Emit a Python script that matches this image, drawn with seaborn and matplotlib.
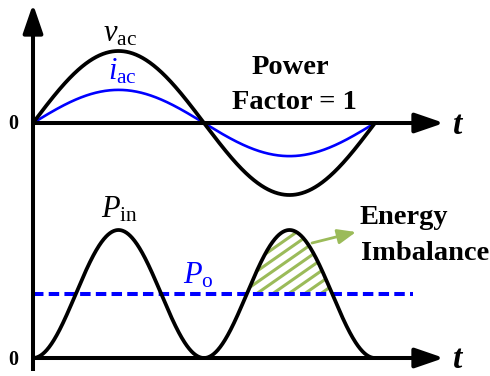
import numpy as np
import pandas as pd
import matplotlib
matplotlib.use("Agg")
import matplotlib.pyplot as plt
import seaborn as sns

# ---- waveform values (normalised units) ----
ac_names = ["v_ac", "i_ac"]
ac_amplitudes = [1.0, 0.46]          # grid voltage, in-phase current (PF = 1)
ac_colors = ["black", "blue"]
power_peak = [1.0]                   # peak of instantaneous input power
power_out = [0.5]                    # constant output power (average of P_in)
cycles = [1.0]                       # one line cycle shown

W, H, DPI = 490, 376, 100
sns.set_theme(style="white")
plt.rcParams["font.family"] = ["Liberation Serif", "DejaVu Serif"]
plt.rcParams["text.color"] = "black"
plt.rcParams["mathtext.fontset"] = "custom"
plt.rcParams["mathtext.rm"] = "Liberation Serif"
plt.rcParams["mathtext.it"] = "Liberation Serif:italic"
plt.rcParams["mathtext.bf"] = "Liberation Serif:bold"

fig = plt.figure(figsize=(W / DPI, H / DPI), dpi=DPI)
fig.patch.set_facecolor("white")

# both panels share the full canvas; they differ only in vertical scaling
ax_ac = fig.add_axes([0, 0, 1, 1])
ax_p = fig.add_axes([0, 0, 1, 1])
for ax in (ax_ac, ax_p):
    ax.set_axis_off()
    ax.patch.set_alpha(0)

# horizontal: one period spans 33 px .. 375 px
x_per_rad = 342 / (2 * np.pi)
xlim = (-33 / x_per_rad, (W - 33) / x_per_rad)
ax_ac.set_xlim(*xlim)
ax_p.set_xlim(*xlim)
# vertical scaling of each panel (zero line / unit size in pixels)
ac_zero, ac_unit = 123, 72
p_zero, p_unit = 358, 128
ax_ac.set_ylim(-(H - ac_zero) / ac_unit, ac_zero / ac_unit)
ax_p.set_ylim(-(H - p_zero) / p_unit, p_zero / p_unit)

theta = np.linspace(0, 2 * np.pi * cycles[0], 721)

# ---- AC waveforms ----
ac_df = pd.concat(
    [pd.DataFrame({"theta": theta, "value": a * np.sin(theta), "signal": n})
     for n, a in zip(ac_names, ac_amplitudes)]
)
sns.lineplot(data=ac_df[ac_df.signal == "i_ac"], x="theta", y="value",
             color=ac_colors[1], lw=1.9, ax=ax_ac, estimator=None, legend=False)
sns.lineplot(data=ac_df[ac_df.signal == "v_ac"], x="theta", y="value",
             color=ac_colors[0], lw=2.7, ax=ax_ac, estimator=None, legend=False)

# ---- power waveforms ----
p_in = power_peak[0] * np.sin(theta) ** 2
p_df = pd.DataFrame({"theta": theta, "p_in": p_in})

# energy imbalance region in the second half-cycle, hatched by hand
mask = (theta >= np.pi) & (p_in >= power_out[0])
region = ax_p.fill_between(theta, power_out[0], p_in, where=mask,
                           facecolor="none", edgecolor="none", zorder=1)
clip_path = region.get_paths()[0]
slope = 0.70 * x_per_rad / p_unit
step = 16 / x_per_rad
for c in np.arange(1.75, 2 * np.pi + 1, step):
    xs = np.array([c - 3.0, c + 3.0])
    ln, = ax_p.plot(xs, power_out[0] + slope * (xs - c),
                    color="#9BBB59", lw=2.2, zorder=1, solid_capstyle="butt")
    ln.set_clip_path(clip_path, ax_p.transData)

po_end = (413 - 33) / x_per_rad
ax_p.plot([0, po_end], [power_out[0], power_out[0]], color="blue", lw=2.9,
          dashes=(2.6, 1.3), zorder=2)
sns.lineplot(data=p_df, x="theta", y="p_in", color="black", lw=2.7,
             ax=ax_p, estimator=None, legend=False, zorder=3)


def fxy(x, y):
    return (x / W, 1 - y / H)


arrow_kw = dict(arrowstyle="-|>,head_length=1.6,head_width=0.55",
                mutation_scale=11, lw=2.9, color="black",
                shrinkA=0, shrinkB=0, capstyle="butt")
# vertical axis
ax_p.annotate("", xy=fxy(33, 4), xytext=fxy(33, 371), xycoords="figure fraction",
              textcoords="figure fraction", arrowprops=arrow_kw)
# time axes
for yy in (ac_zero, p_zero):
    ax_p.annotate("", xy=fxy(444, yy), xytext=fxy(33, yy),
                  xycoords="figure fraction", textcoords="figure fraction",
                  arrowprops=arrow_kw)

# energy imbalance pointer
ax_p.annotate("", xy=fxy(356, 232), xytext=fxy(312, 243),
              xycoords="figure fraction", textcoords="figure fraction",
              arrowprops=dict(arrowstyle="-|>,head_length=1.1,head_width=0.45",
                              mutation_scale=10, lw=2.0, color="#9BBB59",
                              shrinkA=0, shrinkB=0))


def label(x, y, s, **kw):
    fig.text(*fxy(x, y), s, transform=fig.transFigure, **kw)


bold = dict(fontweight="bold", fontsize=20.5, color="black")
label(13, 124, "0", ha="center", va="center", fontweight="bold", fontsize=14.5)
label(13, 360, "0", ha="center", va="center", fontweight="bold", fontsize=14.5)
label(458, 134, "t", ha="center", va="baseline", fontweight="bold",
      style="italic", fontsize=24)
label(458, 368, "t", ha="center", va="baseline", fontweight="bold",
      style="italic", fontsize=24)
label(290, 74, "Power", ha="center", va="baseline", **bold)
label(294, 109, "Factor = 1", ha="center", va="baseline", **bold)
label(359, 224, "Energy", ha="left", va="baseline", **bold)
label(361, 260, "Imbalance", ha="left", va="baseline", **bold)

label(120, 42, r"$v_{\rm ac}$", ha="center", va="baseline", fontsize=22,
      color="black")
label(122, 80, r"$i_{\rm ac}$", ha="center", va="baseline", fontsize=22,
      color="blue")
label(120, 217, r"$P_{\rm in}$", ha="center", va="baseline", fontsize=22,
      color="black")
label(198, 284, r"$P_{\rm o}$", ha="center", va="baseline", fontsize=22,
      color="blue")

fig.savefig("out.png", dpi=DPI, facecolor="white")
